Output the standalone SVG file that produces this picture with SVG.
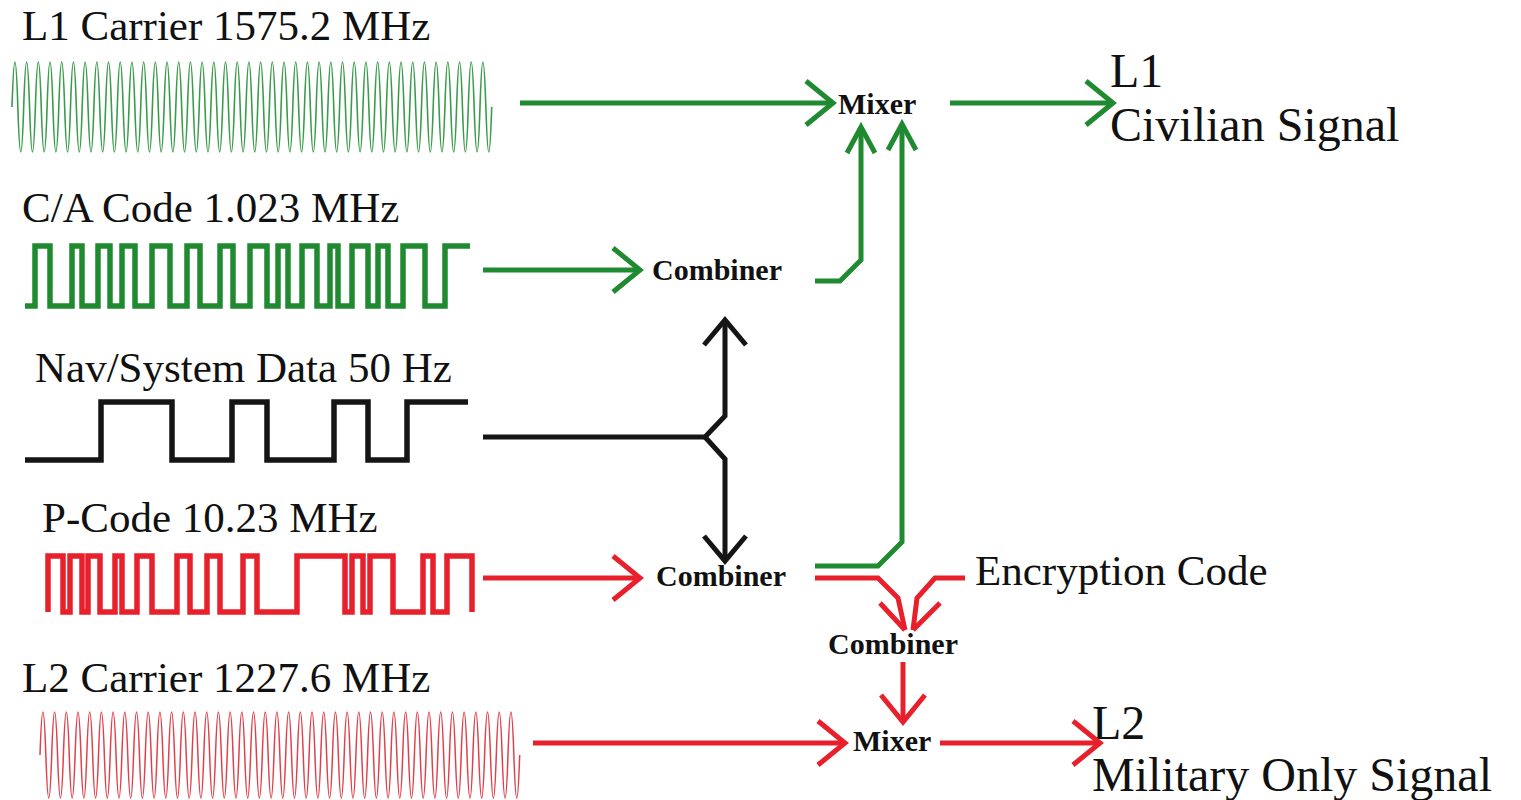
<svg xmlns="http://www.w3.org/2000/svg" width="1521" height="800" viewBox="0 0 1521 800">
<style>
.lbl{font-family:"Liberation Serif","Times New Roman",serif;font-size:43px;fill:#111}
.big{font-family:"Liberation Serif","Times New Roman",serif;font-size:48px;fill:#111}
.blk{font-family:"Liberation Serif","Times New Roman",serif;font-size:30px;font-weight:bold;fill:#111}
.mix{font-family:"Liberation Serif","Times New Roman",serif;font-size:30px;font-weight:bold;fill:#111}
.sq{fill:none;stroke-width:5.5;stroke-linejoin:miter;stroke-linecap:butt}
.g{stroke:#1f8a30}
.r{stroke:#e8202c}
.k{stroke:#151515}
.c{fill:none;stroke-width:5;stroke-linejoin:miter}
.sg{fill:none;stroke:#3a9c4a;stroke-width:1.6}
.sr{fill:none;stroke:#e0404a;stroke-width:1.5}
</style>
<defs>
<marker id="ag" viewBox="0 0 40 50" refX="31" refY="25" markerWidth="40" markerHeight="50" markerUnits="userSpaceOnUse" orient="auto" overflow="visible"><path d="M4,3 L31,25 L4,47" fill="none" stroke="#1f8a30" stroke-width="5"/></marker>
<marker id="agn" viewBox="0 0 40 50" refX="31" refY="25" markerWidth="40" markerHeight="50" markerUnits="userSpaceOnUse" orient="auto" overflow="visible"><path d="M5,11 L31,25 L5,39" fill="none" stroke="#1f8a30" stroke-width="5"/></marker>
<marker id="ar" viewBox="0 0 40 50" refX="31" refY="25" markerWidth="40" markerHeight="50" markerUnits="userSpaceOnUse" orient="auto" overflow="visible"><path d="M4,3 L31,25 L4,47" fill="none" stroke="#e8202c" stroke-width="5"/></marker>
<marker id="ak" viewBox="0 0 40 50" refX="31" refY="25" markerWidth="40" markerHeight="50" markerUnits="userSpaceOnUse" orient="auto" overflow="visible"><path d="M6,4 L31,25 L6,46" fill="none" stroke="#151515" stroke-width="5"/></marker>
</defs>
<rect width="1521" height="800" fill="#ffffff"/>

<g id="l1-carrier">
<text class="lbl" x="22" y="40">L1 Carrier 1575.2 MHz</text>
<path class="sg" d="M12,107 q2.925,-90 5.85,0 t
5.85,0 5.85,0 5.85,0 5.85,0 5.85,0 5.85,0 5.85,0 5.85,0 5.85,0
5.85,0 5.85,0 5.85,0 5.85,0 5.85,0 5.85,0 5.85,0 5.85,0 5.85,0
5.85,0 5.85,0 5.85,0 5.85,0 5.85,0 5.85,0 5.85,0 5.85,0 5.85,0
5.85,0 5.85,0 5.85,0 5.85,0 5.85,0 5.85,0 5.85,0 5.85,0 5.85,0
5.85,0 5.85,0 5.85,0 5.85,0 5.85,0 5.85,0 5.85,0 5.85,0 5.85,0
5.85,0 5.85,0 5.85,0 5.85,0 5.85,0 5.85,0 5.85,0 5.85,0 5.85,0
5.85,0 5.85,0 5.85,0 5.85,0 5.85,0 5.85,0 5.85,0 5.85,0 5.85,0
5.85,0 5.85,0 5.85,0 5.85,0 5.85,0 5.85,0 5.85,0 5.85,0 5.85,0
5.85,0 5.85,0 5.85,0 5.85,0 5.85,0 5.85,0 5.85,0 5.85,0 5.85,0"/>
</g>

<g id="ca-code">
<text class="lbl" x="22" y="222">C/A Code 1.023 MHz</text>
<path class="sq g" d="M25,306 H35 V246 H50 V306 H72 V246 H82 V306 H98 V246 H110 V306 H122 V246 H135 V306 H152 V246 H170 V306 H187 V246 H200 V306 H220 V246 H233 V306 H250 V246 H267 V306 H278 V246 H288 V306 H302 V246 H317 V306 H330 V246 H338 V306 H352 V246 H368 V306 H378 V246 H388 V306 H403 V246 H425 V306 H445 V246 H470"/>
</g>

<g id="nav-data">
<text class="lbl" x="35" y="382">Nav/System Data 50 Hz</text>
<path class="sq k" d="M25,460 H101 V402 H172 V460 H232 V402 H267 V460 H334 V402 H368 V460 H407 V402 H468"/>
</g>

<g id="p-code">
<text class="lbl" x="42" y="532">P-Code 10.23 MHz</text>
<path class="sq r" d="M48,612 V556 H63 V612 H70 V556 H82 V612 H88 V556 H100 V612 H115 V556 H122 V612 H137 V556 H152 V612 H177 V556 H190 V612 H207 V556 H220 V612 H243 V556 H257 V612 H297 V556 H345 V612 H352 V556 H363 V612 H370 V556 H393 V612 H423 V556 H433 V612 H447 V556 H472 V612"/>
</g>

<g id="l2-carrier">
<text class="lbl" x="22" y="692">L2 Carrier 1227.6 MHz</text>
<path class="sr" d="M40,755 q2.925,-86 5.85,0 t
5.85,0 5.85,0 5.85,0 5.85,0 5.85,0 5.85,0 5.85,0 5.85,0 5.85,0
5.85,0 5.85,0 5.85,0 5.85,0 5.85,0 5.85,0 5.85,0 5.85,0 5.85,0
5.85,0 5.85,0 5.85,0 5.85,0 5.85,0 5.85,0 5.85,0 5.85,0 5.85,0
5.85,0 5.85,0 5.85,0 5.85,0 5.85,0 5.85,0 5.85,0 5.85,0 5.85,0
5.85,0 5.85,0 5.85,0 5.85,0 5.85,0 5.85,0 5.85,0 5.85,0 5.85,0
5.85,0 5.85,0 5.85,0 5.85,0 5.85,0 5.85,0 5.85,0 5.85,0 5.85,0
5.85,0 5.85,0 5.85,0 5.85,0 5.85,0 5.85,0 5.85,0 5.85,0 5.85,0
5.85,0 5.85,0 5.85,0 5.85,0 5.85,0 5.85,0 5.85,0 5.85,0 5.85,0
5.85,0 5.85,0 5.85,0 5.85,0 5.85,0 5.85,0 5.85,0 5.85,0 5.85,0"/>
</g>

<g id="combiner-ca"><text class="blk" x="652" y="280">Combiner</text></g>
<g id="combiner-p"><text class="blk" x="656" y="586">Combiner</text></g>
<g id="combiner-enc"><text class="blk" x="828" y="654">Combiner</text></g>
<g id="mixer-l1"><text class="mix" x="838" y="114">Mixer</text></g>
<g id="mixer-l2"><text class="mix" x="853" y="751">Mixer</text></g>
<g id="encryption-code"><text class="lbl" x="975" y="585">Encryption Code</text></g>
<g id="l1-signal"><text class="big" x="1110" y="87">L1</text><text class="big" x="1110" y="141">Civilian Signal</text></g>
<g id="l2-signal"><text class="big" x="1092" y="739">L2</text><text class="big" x="1092" y="791">Military Only Signal</text></g>

<g id="connectors">
<path class="c g" d="M520,103 H833" marker-end="url(#ag)"/>
<path class="c g" d="M950,103 H1113" marker-end="url(#ag)"/>
<path class="c g" d="M483,270 H640" marker-end="url(#ag)"/>
<path class="c g" d="M815,281 H840 L861,260 V127" marker-end="url(#agn)"/>
<path class="c g" d="M815,566 H878 L902,542 V124" marker-end="url(#agn)"/>
<path class="c k" d="M483,437 H705 L725,416 V320" marker-end="url(#ak)"/>
<path class="c k" d="M705,437 L725,459 V561" marker-end="url(#ak)"/>
<path class="c r" d="M483,578 H640" marker-end="url(#ar)"/>
<path class="c r" d="M815,578 H878 L898,598 L905,630"/>
<path class="c r" d="M880,603 L905,630"/>
<path class="c r" d="M965,578 H935 L917,598 L913,630"/>
<path class="c r" d="M940,603 L913,630"/>
<path class="c r" d="M903,662 V722" marker-end="url(#ar)"/>
<path class="c r" d="M533,743 H845" marker-end="url(#ar)"/>
<path class="c r" d="M940,743 H1100" marker-end="url(#ar)"/>
</g>
</svg>
